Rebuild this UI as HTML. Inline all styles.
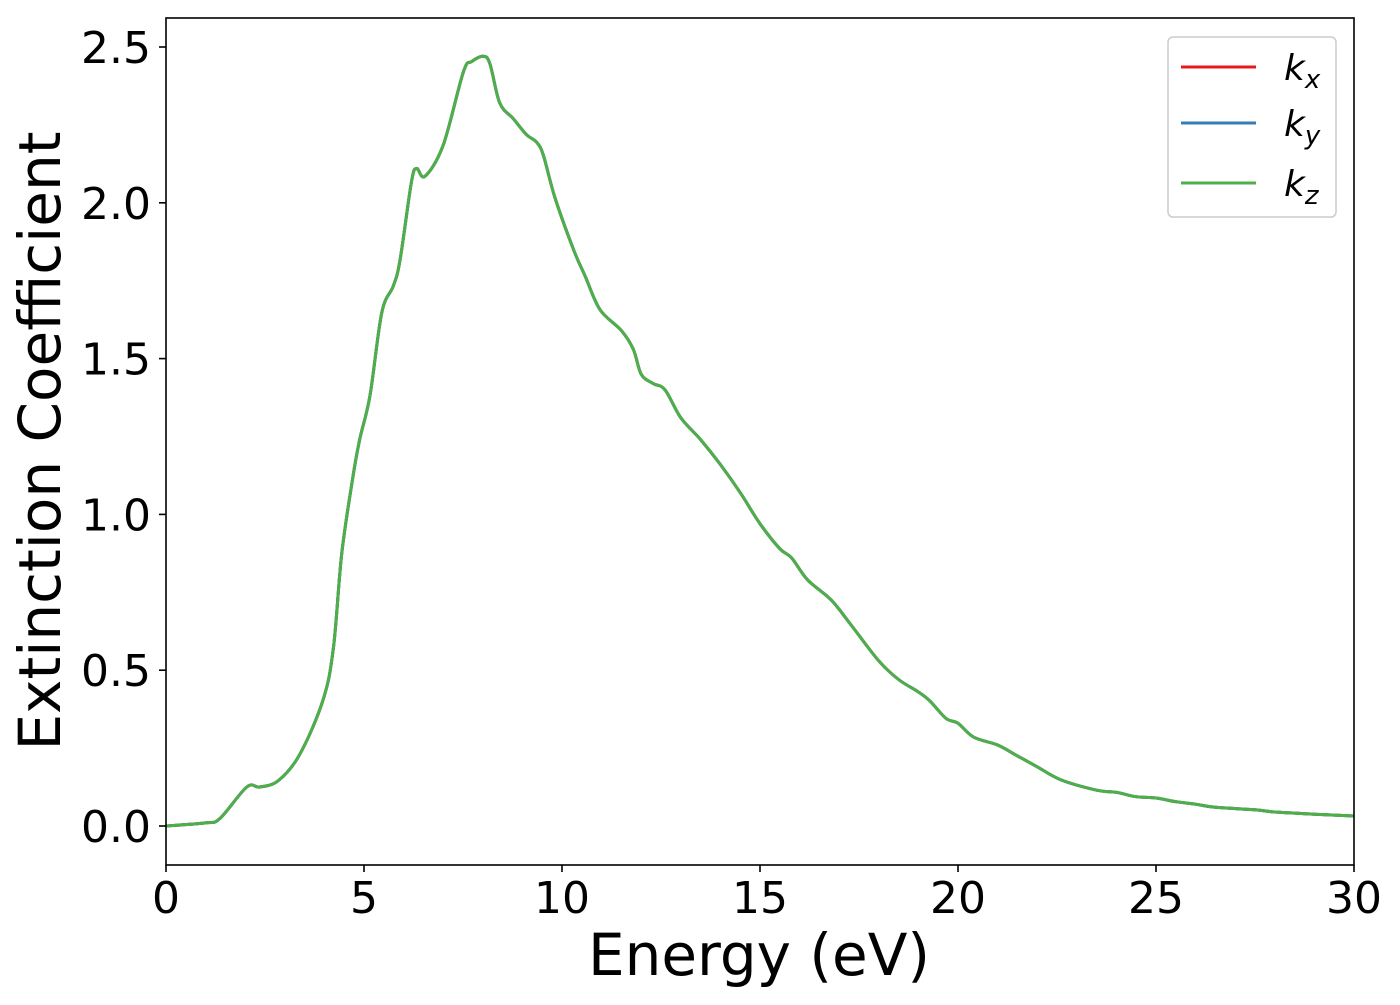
<!DOCTYPE html>
<html><head><meta charset="utf-8"><style>
body{margin:0;background:#fff;}
svg text{font-family:"DejaVu Sans","Liberation Sans",sans-serif;}
</style></head><body>
<svg id="chart" width="1400" height="1000" xmlns="http://www.w3.org/2000/svg">
<rect width="1400" height="1000" fill="#fff"/>
<g id="series"></g>
<rect x="166" y="18" width="1188" height="847" fill="none" stroke="#000" stroke-width="1.6"/>
<g id="xticks"></g>
<g id="yticks"></g>
<text x="759" y="975" font-size="58" text-anchor="middle">Energy (eV)</text>
<text transform="translate(60,441) rotate(-90)" font-size="58" text-anchor="middle">Extinction Coefficient</text>
<g>
<rect x="1168" y="37" width="168" height="180" rx="5" fill="#fff" stroke="#ccc" stroke-width="1.5"/>
<line x1="1181" y1="67" x2="1256" y2="67" stroke="#e41a1c" stroke-width="3"/>
<text x="1284" y="80" font-size="36" font-style="italic">k<tspan font-size="26" dy="8">x</tspan></text>
<line x1="1181" y1="123" x2="1256" y2="123" stroke="#377eb8" stroke-width="3"/>
<text x="1284" y="136" font-size="36" font-style="italic">k<tspan font-size="26" dy="8">y</tspan></text>
<line x1="1181" y1="183" x2="1256" y2="183" stroke="#4daf4a" stroke-width="3"/>
<text x="1284" y="196" font-size="36" font-style="italic">k<tspan font-size="26" dy="8">z</tspan></text>
</g>
</svg>
<script>
const energy=[0,1,1.36,2.04,2.37,2.84,3.38,3.97,4.23,4.44,4.73,4.9,5.15,5.45,5.74,5.91,6.2,6.33,6.54,7.0,7.51,7.72,8.01,8.18,8.43,8.77,9.1,9.36,9.53,9.82,10.29,10.58,10.96,11.5,11.8,12,12.3,12.6,13,13.5,14,14.5,15,15.5,15.8,16.2,16.8,17.3,18,18.5,19,19.3,19.7,20,20.4,21,21.5,22,22.6,23.5,24,24.5,25,25.5,26,26.5,27.5,28,29,30];
const kx=[0,0.01,0.024,0.125,0.125,0.146,0.23,0.406,0.574,0.876,1.128,1.245,1.38,1.648,1.733,1.816,2.068,2.11,2.085,2.185,2.42,2.453,2.47,2.446,2.32,2.27,2.219,2.194,2.152,2.017,1.85,1.766,1.657,1.59,1.53,1.45,1.42,1.40,1.31,1.24,1.16,1.07,0.97,0.89,0.86,0.79,0.725,0.645,0.53,0.47,0.43,0.40,0.345,0.33,0.285,0.26,0.225,0.19,0.148,0.115,0.108,0.094,0.09,0.078,0.07,0.06,0.052,0.045,0.038,0.032];
const ky=kx.slice();
const kz=kx.slice();
const xTicks=[0,5,10,15,20,25,30];
const yTicks=[0,0.5,1.0,1.5,2.0,2.5];
const yTickLabels=["0.0","0.5","1.0","1.5","2.0","2.5"];
const X=v=>166+v*(1188/30);
const Y=v=>826-v*311.6;
const NS="http://www.w3.org/2000/svg";
const sg=document.getElementById('series');
function smoothPath(pts){
  let d='M'+pts[0][0].toFixed(1)+','+pts[0][1].toFixed(1);
  for(let i=0;i<pts.length-1;i++){
    const p0=pts[Math.max(0,i-1)],p1=pts[i],p2=pts[i+1],p3=pts[Math.min(pts.length-1,i+2)];
    const c1=[p1[0]+(p2[0]-p0[0])/6,p1[1]+(p2[1]-p0[1])/6];
    const c2=[p2[0]-(p3[0]-p1[0])/6,p2[1]-(p3[1]-p1[1])/6];
    d+=' C'+c1[0].toFixed(1)+','+c1[1].toFixed(1)+' '+c2[0].toFixed(1)+','+c2[1].toFixed(1)+' '+p2[0].toFixed(1)+','+p2[1].toFixed(1);
  }
  return d;
}
function draw(vals,color,name){
  const p=document.createElementNS(NS,'path');
  p.setAttribute('d',smoothPath(energy.map((e,i)=>[X(e),Y(vals[i])])));
  p.setAttribute('fill','none');p.setAttribute('stroke',color);p.setAttribute('stroke-width','3');
  p.setAttribute('stroke-linejoin','round');
  
  
  sg.appendChild(p);
}
draw(kx,'#e41a1c','series-kx');
draw(ky,'#377eb8','series-ky');
draw(kz,'#4daf4a','series-kz');
const xg=document.getElementById('xticks');
xTicks.forEach(t=>{
  const l=document.createElementNS(NS,'line');
  l.setAttribute('x1',X(t));l.setAttribute('x2',X(t));l.setAttribute('y1',865);l.setAttribute('y2',872);l.setAttribute('stroke','#000');l.setAttribute('stroke-width','1.6');
  
  
  xg.appendChild(l);
  const tx=document.createElementNS(NS,'text');
  tx.setAttribute('x',X(t));tx.setAttribute('y',913);tx.setAttribute('font-size','44');tx.setAttribute('text-anchor','middle');
  tx.textContent=String(t);
  
  
  xg.appendChild(tx);
});
const yg=document.getElementById('yticks');
yTicks.forEach((t,i)=>{
  const l=document.createElementNS(NS,'line');
  l.setAttribute('x1',159);l.setAttribute('x2',166);l.setAttribute('y1',Y(t));l.setAttribute('y2',Y(t));l.setAttribute('stroke','#000');l.setAttribute('stroke-width','1.6');
  
  
  yg.appendChild(l);
  const tx=document.createElementNS(NS,'text');
  tx.setAttribute('x',151);tx.setAttribute('y',Y(t)+16);tx.setAttribute('font-size','44');tx.setAttribute('text-anchor','end');
  tx.textContent=yTickLabels[i];
  
  
  yg.appendChild(tx);
});
</script>
</body></html>
